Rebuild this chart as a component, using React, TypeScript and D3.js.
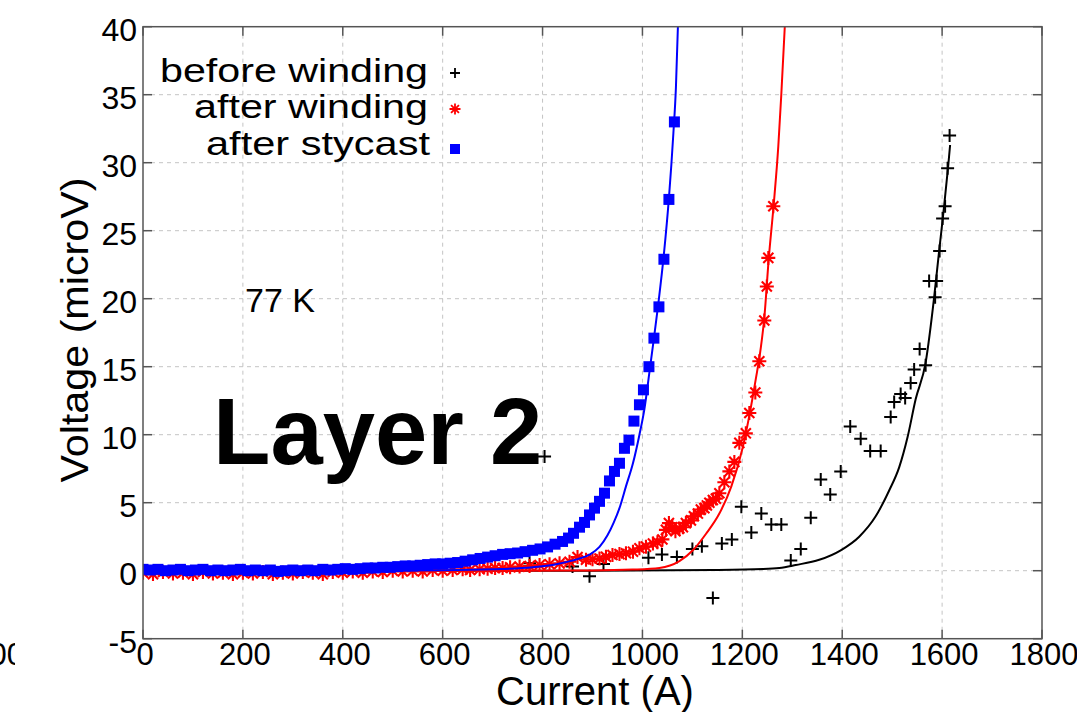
import React from "react";
import * as d3 from "d3";

// Axis ticks
const xTicks = [0, 200, 400, 600, 800, 1000, 1200, 1400, 1600, 1800];
const yTicks = [-5, 0, 5, 10, 15, 20, 25, 30, 35, 40];

// Measured V(I) points, current in A and voltage in microV
const beforeWinding: [number, number][] = [
  [774, 0.55], [804, 8.4], [860, 0.3], [894, -0.4], [922, 0.5], [1012, 0.95], [1039, 1.2],
  [1069, 1.0], [1100, 1.6], [1119, 1.8], [1141, -2.0], [1159, 2.0], [1179, 2.3],
  [1198, 4.7], [1218, 2.8], [1238, 4.2], [1258, 3.4], [1278, 3.4], [1297, 0.75],
  [1317, 1.6], [1337, 3.9], [1357, 6.7], [1376, 5.6], [1397, 7.3], [1416, 10.6],
  [1437, 9.7], [1456, 8.8], [1477, 8.8], [1497, 11.3], [1504, 12.4], [1517, 13.0],
  [1526, 12.7], [1537, 13.8], [1544, 14.8], [1555, 16.3], [1567, 15.1], [1574, 21.3],
  [1586, 20.1], [1589, 21.3], [1595, 23.5], [1601, 25.9], [1606, 26.8], [1611, 29.6],
  [1615, 32.0],
];

const afterWinding: [number, number][] = [
  [0, -0.15], [20, -0.25], [40, -0.1], [60, -0.2], [80, -0.15], [100, -0.25], [120, -0.1],
  [140, -0.2], [160, -0.15], [180, -0.25], [200, -0.15], [220, -0.2], [240, -0.1],
  [260, -0.25], [280, -0.15], [300, -0.2], [320, -0.1], [340, -0.15], [360, -0.25],
  [380, -0.1], [400, -0.15], [420, -0.05], [440, -0.15], [460, -0.05], [480, -0.1],
  [500, 0.0], [520, -0.05], [540, 0.0], [560, -0.05], [580, 0.05], [600, 0.0],
  [620, 0.05], [640, 0.1], [655, 0.05], [674, 0.1], [690, 0.15], [705, 0.2], [720, 0.2],
  [735, 0.25], [754, 0.3], [774, 0.35], [794, 0.42], [814, 0.48], [834, 0.54],
  [854, 0.66], [870, 1.0], [887, 0.8], [900, 0.84], [914, 0.9], [927, 1.03], [940, 1.15],
  [954, 1.22], [967, 1.28], [981, 1.4], [994, 1.65], [1007, 1.77], [1021, 2.0],
  [1030, 2.1], [1040, 2.3], [1047, 3.0], [1053, 3.5], [1060, 3.2], [1066, 2.9],
  [1074, 3.1], [1081, 3.2], [1087, 3.5], [1097, 3.7], [1103, 4.0], [1111, 4.2],
  [1117, 4.5], [1124, 4.6], [1129, 4.8], [1134, 5.0], [1141, 5.2], [1147, 5.3],
  [1154, 5.7], [1164, 6.5], [1174, 7.3], [1184, 8.0], [1194, 9.4], [1207, 10.1],
  [1214, 11.6], [1226, 13.1], [1234, 15.4], [1244, 18.4], [1249, 20.9], [1252, 23.0],
  [1262, 26.8],
];

const afterStycast: [number, number][] = [
  [0, 0.1], [15, 0.05], [30, 0.1], [45, 0.0], [60, 0.05], [75, 0.1], [90, 0.0],
  [105, 0.05], [120, 0.1], [135, 0.0], [150, 0.05], [165, 0.0], [180, 0.05], [195, 0.1],
  [210, 0.0], [225, 0.05], [240, 0.0], [255, 0.05], [270, -0.05], [285, 0.0], [300, 0.05],
  [315, 0.0], [330, 0.05], [345, 0.0], [360, 0.1], [375, 0.05], [390, 0.1], [405, 0.15],
  [420, 0.1], [435, 0.15], [450, 0.2], [465, 0.2], [480, 0.25], [495, 0.25], [510, 0.3],
  [525, 0.35], [540, 0.35], [555, 0.4], [570, 0.45], [585, 0.5], [600, 0.5], [615, 0.55],
  [630, 0.6], [645, 0.7], [660, 0.8], [675, 0.9], [690, 1.0], [705, 1.1], [720, 1.2],
  [735, 1.25], [750, 1.3], [765, 1.4], [780, 1.5], [795, 1.6], [810, 1.75], [825, 1.95],
  [840, 2.15], [852, 2.4], [862, 2.75], [874, 3.2], [884, 3.55], [894, 4.1], [904, 4.6],
  [914, 5.1], [924, 5.7], [934, 6.6], [944, 7.3], [954, 7.9], [964, 9.0], [973, 9.6],
  [983, 11.0], [994, 12.2], [1002, 13.3], [1013, 15.0], [1023, 17.1], [1033, 19.4],
  [1043, 22.9], [1053, 27.3], [1064, 33.0],
];

// Fitted curves
const beforeWindingFit: [number, number][] = [
  [0, 0], [900, 0.0], [1141, 0.05], [1241, 0.12], [1274, 0.2], [1307, 0.42], [1354, 0.8],
  [1397, 1.5], [1434, 2.5], [1467, 4.0], [1494, 5.9], [1514, 7.6], [1531, 9.85],
  [1547, 12.6], [1567, 15.3], [1584, 20.1], [1594, 23.5], [1604, 26.8], [1612, 29.7],
  [1616, 31.3],
];

const afterWindingFit: [number, number][] = [
  [0, 0], [700, 0.0], [900, 0.02], [980, 0.08], [1034, 0.2], [1074, 0.7], [1101, 1.5],
  [1127, 2.7], [1154, 4.2], [1178, 6.2], [1201, 9.1], [1214, 11.4], [1227, 14.1],
  [1237, 16.4], [1244, 18.6], [1253, 23.0], [1263, 27.0], [1272, 31.2], [1278, 35.0],
  [1285, 40],
];

const afterStycastFit: [number, number][] = [
  [0, 0], [400, 0.0], [600, 0.03], [700, 0.1], [780, 0.25], [830, 0.5], [870, 0.85],
  [895, 1.2], [914, 1.75], [930, 2.6], [942, 3.5], [954, 4.6], [967, 6.2], [981, 7.9],
  [994, 10.0], [1004, 11.9], [1014, 14.6], [1023, 17.1], [1032, 19.7], [1043, 23.3],
  [1053, 27.4], [1062, 32.2], [1067, 35.5], [1071, 40],
];

const legendLabels = ["before winding", "after winding", "after stycast"];

const W = 1077;
const H = 712;
const left = 143;
const right = 1042;
const top = 26.7;
const bottom = 638.7;
const FONT = "'Liberation Sans', Arial, Helvetica, sans-serif";

const x = d3.scaleLinear().domain([0, 1800]).range([left, right]);
const y = d3.scaleLinear().domain([-5, 40]).range([bottom, top]);

const line = d3
  .line<[number, number]>()
  .x((d) => x(d[0]))
  .y((d) => y(d[1]))
  .curve(d3.curveMonotoneX);

function plusPath(cx: number, cy: number, r: number) {
  return `M${cx - r},${cy}H${cx + r}M${cx},${cy - r}V${cy + r}`;
}

function starPath(cx: number, cy: number, r: number) {
  const d = r * 0.72;
  return (
    plusPath(cx, cy, r) +
    `M${cx - d},${cy - d}L${cx + d},${cy + d}M${cx - d},${cy + d}L${cx + d},${cy - d}`
  );
}

export default function App() {
  const tickLen = 9;
  const sq = 11;
  return (
    <svg
      width={W}
      height={H}
      style={{ position: "absolute", left: 0, top: 0, background: "#fff" }}
      fontFamily={FONT}
    >
      <defs>
        <clipPath id="plot-area">
          <rect x={left} y={top} width={right - left} height={bottom - top} />
        </clipPath>
        <clipPath id="edge-label">
          <rect x={0} y={600} width={15} height={100} />
        </clipPath>
      </defs>
      <rect x={0} y={0} width={W} height={H} fill="#fff" />

      {/* grid */}
      <g stroke="#c4c4c4" strokeWidth={1} strokeDasharray="4,4">
        {xTicks.slice(1, -1).map((t) => (
          <line key={"gx" + t} x1={x(t)} x2={x(t)} y1={top} y2={bottom} />
        ))}
        {yTicks.slice(1, -1).map((t) => (
          <line key={"gy" + t} x1={left} x2={right} y1={y(t)} y2={y(t)} />
        ))}
      </g>

      {/* ticks, inward on all four sides */}
      <g stroke="#555" strokeWidth={1.5}>
        {xTicks.map((t) => (
          <g key={"tx" + t}>
            <line x1={x(t)} x2={x(t)} y1={bottom} y2={bottom - tickLen} />
            <line x1={x(t)} x2={x(t)} y1={top} y2={top + tickLen} />
          </g>
        ))}
        {yTicks.map((t) => (
          <g key={"ty" + t}>
            <line x1={left} x2={left + tickLen} y1={y(t)} y2={y(t)} />
            <line x1={right} x2={right - tickLen} y1={y(t)} y2={y(t)} />
          </g>
        ))}
      </g>

      {/* data */}
      <g clipPath="url(#plot-area)">
        <g stroke="#000" strokeWidth={2} fill="none">
          {beforeWinding.map((d, i) => (
            <path key={"b" + i} d={plusPath(x(d[0]), y(d[1]), 6.5)} />
          ))}
        </g>
        <path d={line(beforeWindingFit) || ""} fill="none" stroke="#000" strokeWidth={2} />
        <g stroke="#ff0000" strokeWidth={2.1} fill="none">
          {afterWinding.map((d, i) => (
            <path key={"r" + i} d={starPath(x(d[0]), y(d[1]), 7)} />
          ))}
        </g>
        <path d={line(afterWindingFit) || ""} fill="none" stroke="#ff0000" strokeWidth={2} />
        <g fill="#0000ff">
          {afterStycast.map((d, i) => (
            <rect
              key={"s" + i}
              x={x(d[0]) - sq / 2}
              y={y(d[1]) - sq / 2}
              width={sq}
              height={sq}
            />
          ))}
        </g>
        <path d={line(afterStycastFit) || ""} fill="none" stroke="#0000ff" strokeWidth={2} />
      </g>

      {/* frame */}
      <rect
        x={left}
        y={top}
        width={right - left}
        height={bottom - top}
        fill="none"
        stroke="#555"
        strokeWidth={1.5}
      />

      {/* tick labels */}
      <g fontSize={31} fill="#000">
        {xTicks.map((t) => (
          <text key={"lx" + t} x={x(t) + 2} y={665} textAnchor="middle">
            {t}
          </text>
        ))}
        {yTicks.map((t) => (
          <text key={"ly" + t} x={137} y={y(t) + 14} textAnchor="end" fontSize={32}>
            {t}
          </text>
        ))}
        <text x={24} y={665} textAnchor="end" clipPath="url(#edge-label)">
          1800
        </text>
      </g>

      {/* axis titles */}
      <text x={595} y={705} fontSize={40} textAnchor="middle">
        Current (A)
      </text>
      <text
        transform={`translate(88, 330) rotate(-90)`}
        fontSize={39}
        textAnchor="middle"
        textLength={305}
        lengthAdjust="spacingAndGlyphs"
      >
        Voltage (microV)
      </text>

      {/* legend */}
      <g fontSize={34} fill="#000">
        <text x={428} y={82} textAnchor="end" textLength={268} lengthAdjust="spacingAndGlyphs">
          {legendLabels[0]}
        </text>
        <text x={428} y={118} textAnchor="end" textLength={234} lengthAdjust="spacingAndGlyphs">
          {legendLabels[1]}
        </text>
        <text x={430} y={155} textAnchor="end" textLength={224} lengthAdjust="spacingAndGlyphs">
          {legendLabels[2]}
        </text>
      </g>
      <path d={plusPath(455, 73, 5)} stroke="#000" strokeWidth={1.8} fill="none" />
      <path d={starPath(455, 109, 5.5)} stroke="#ff0000" strokeWidth={1.8} fill="none" />
      <rect x={450} y={144} width={10} height={10} fill="#0000ff" />

      {/* annotations */}
      <text x={245} y={312} fontSize={34}>
        77 K
      </text>
      <text x={213} y={464} fontSize={94} fontWeight="bold">
        Layer 2
      </text>
    </svg>
  );
}
